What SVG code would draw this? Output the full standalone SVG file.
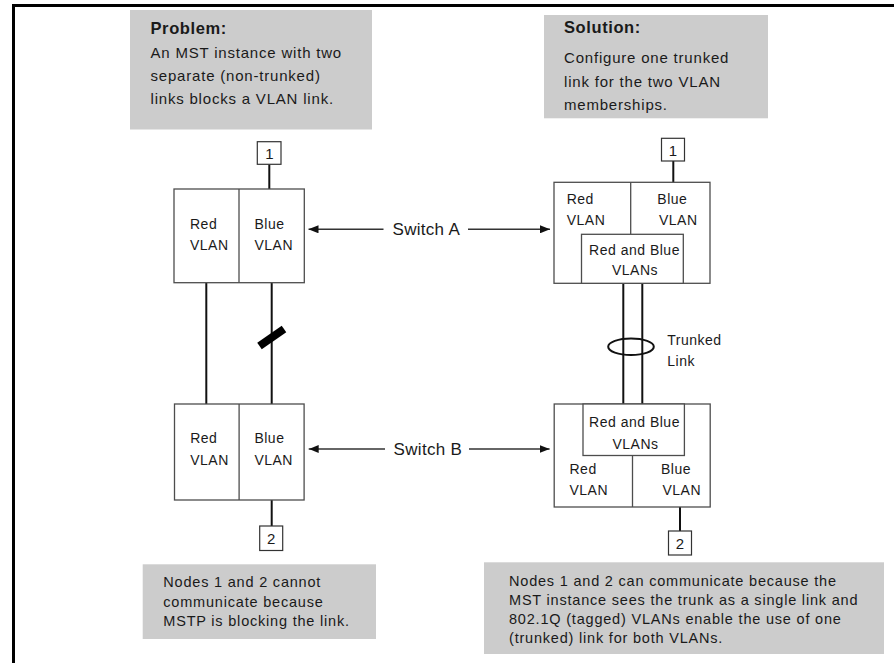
<svg xmlns="http://www.w3.org/2000/svg" width="894" height="663" viewBox="0 0 894 663">
<style>
text{font-family:"Liberation Sans",Arial,sans-serif;fill:#1a1a1a}
.note{fill:#cccccc;stroke:none}
.head{font-size:16.5px;font-weight:bold;letter-spacing:0.6px}
.body{font-size:15px;letter-spacing:0.8px}
.foot{font-size:14.5px;letter-spacing:0.8px}
.lbl{font-size:14px;letter-spacing:0.5px}
.sw{fill:#ffffff;stroke:#4d4d4d;stroke-width:1.3}
.div{stroke:#4d4d4d;stroke-width:1.3;fill:none}
.nd{fill:#ffffff;stroke:#333333;stroke-width:1.2}
.ndt{font-size:15px;text-anchor:middle}
.link{stroke:#111111;stroke-width:2;fill:none}
.arr{stroke:#333333;stroke-width:1.4;fill:none;marker-end:url(#ah)}
.swl{font-size:17px;letter-spacing:0.3px}
</style>
<defs>
<marker id="ah" viewBox="0 0 10 8" refX="10" refY="4" markerWidth="10" markerHeight="8" markerUnits="userSpaceOnUse" orient="auto">
<path d="M0,0 L10,4 L0,8 Z" fill="#111111"/>
</marker>
</defs>
<g id="frame">
<line x1="12" y1="5.5" x2="894" y2="5.5" stroke="#000" stroke-width="3"/>
<line x1="13.5" y1="4" x2="13.5" y2="663" stroke="#000" stroke-width="3"/>
</g>
<g id="problem">
<rect class="note" x="130" y="10" width="242" height="119.5"/>
<text class="head" x="150.5" y="34">Problem:</text>
<text class="body" x="150.5" y="57.7">An MST instance with two</text>
<text class="body" x="150.5" y="81">separate (non-trunked)</text>
<text class="body" x="150.5" y="104.3">links blocks a VLAN link.</text>
</g>
<g id="solution">
<rect class="note" x="544" y="15" width="224" height="103.3"/>
<text class="head" x="564" y="32.5">Solution:</text>
<text class="body" x="564" y="63">Configure one trunked</text>
<text class="body" x="564" y="86.5">link for the two VLAN</text>
<text class="body" x="564" y="110">memberships.</text>
</g>
<g id="connectors">
<line class="link" x1="269.3" y1="164.3" x2="269.3" y2="189"/>
<line class="link" x1="206.3" y1="282.7" x2="206.3" y2="404"/>
<line class="link" x1="271.7" y1="282.7" x2="271.7" y2="404"/>
<line x1="259.5" y1="346" x2="284" y2="329" stroke="#000" stroke-width="8"/>
<line class="link" x1="271.7" y1="500" x2="271.7" y2="526"/>
<line class="link" x1="673.3" y1="161" x2="673.3" y2="182.3"/>
<line class="link" x1="623.3" y1="283.3" x2="623.3" y2="404"/>
<line class="link" x1="642.3" y1="283.3" x2="642.3" y2="404"/>
<ellipse class="link" cx="631" cy="346.7" rx="22.8" ry="8.3"/>
<line class="link" x1="680" y1="507" x2="680" y2="531"/>
<line class="arr" x1="383.5" y1="229.3" x2="308.5" y2="229.3"/>
<line class="arr" x1="468" y1="229.3" x2="550" y2="229.3"/>
<text class="swl" x="392.5" y="235.2">Switch A</text>
<line class="arr" x1="385" y1="449" x2="308.7" y2="449"/>
<line class="arr" x1="469" y1="449" x2="549.6" y2="449"/>
<text class="swl" x="393.6" y="455">Switch B</text>
<text class="lbl" x="667.3" y="345">Trunked</text>
<text class="lbl" x="667.3" y="366">Link</text>
</g>
<g id="node1-left">
<rect class="nd" x="257.3" y="141.7" width="23.7" height="22.6"/>
<text class="ndt" x="269.3" y="158.5">1</text>
</g>
<g id="switchA-left">
<rect class="sw" x="174" y="189" width="130.3" height="93.7"/>
<line class="div" x1="239" y1="189" x2="239" y2="282.7"/>
<text class="lbl" x="190" y="229.3">Red</text>
<text class="lbl" x="190" y="250">VLAN</text>
<text class="lbl" x="254.5" y="229.3">Blue</text>
<text class="lbl" x="254.5" y="250">VLAN</text>
</g>
<g id="switchB-left">
<rect class="sw" x="174.5" y="404" width="129.6" height="96"/>
<line class="div" x1="239.1" y1="404" x2="239.1" y2="500"/>
<text class="lbl" x="190.2" y="443">Red</text>
<text class="lbl" x="190.2" y="465">VLAN</text>
<text class="lbl" x="254.4" y="443">Blue</text>
<text class="lbl" x="254.4" y="465">VLAN</text>
</g>
<g id="node2-left">
<rect class="nd" x="259.7" y="526" width="23" height="24.5"/>
<text class="ndt" x="271.2" y="544">2</text>
</g>
<g id="node1-right">
<rect class="nd" x="661.5" y="138.3" width="23" height="22.7"/>
<text class="ndt" x="673" y="155.5">1</text>
</g>
<g id="switchA-right">
<rect class="sw" x="554" y="182.3" width="156" height="101"/>
<line class="div" x1="630.7" y1="182.3" x2="630.7" y2="234.3"/>
<rect class="sw" x="581.5" y="234.3" width="101.8" height="49"/>
<text class="lbl" x="566.7" y="204.3">Red</text>
<text class="lbl" x="566.7" y="225">VLAN</text>
<text class="lbl" x="657.3" y="204.3">Blue</text>
<text class="lbl" x="659" y="225">VLAN</text>
<text class="lbl" x="634.5" y="255" text-anchor="middle">Red and Blue</text>
<text class="lbl" x="635" y="275" text-anchor="middle">VLANs</text>
</g>
<g id="switchB-right">
<rect class="sw" x="554.2" y="404" width="156" height="103"/>
<rect class="sw" x="583" y="404" width="101.4" height="51.5"/>
<line class="div" x1="632.5" y1="455.5" x2="632.5" y2="507"/>
<text class="lbl" x="634.5" y="427" text-anchor="middle">Red and Blue</text>
<text class="lbl" x="635.5" y="449" text-anchor="middle">VLANs</text>
<text class="lbl" x="569.5" y="473.5">Red</text>
<text class="lbl" x="569.5" y="495">VLAN</text>
<text class="lbl" x="661" y="473.5">Blue</text>
<text class="lbl" x="662.5" y="495">VLAN</text>
</g>
<g id="node2-right">
<rect class="nd" x="668.5" y="531" width="23" height="24"/>
<text class="ndt" x="680" y="548.5">2</text>
</g>
<g id="note-left">
<rect class="note" x="142.7" y="564.3" width="233.3" height="74.7"/>
<text class="foot" x="163.3" y="587.3">Nodes 1 and 2 cannot</text>
<text class="foot" x="163.3" y="606.5">communicate because</text>
<text class="foot" x="163.3" y="625.5">MSTP is blocking the link.</text>
</g>
<g id="note-right">
<rect class="note" x="484" y="562.3" width="400" height="91.7"/>
<text class="foot" x="509" y="585.7">Nodes 1 and 2 can communicate because the</text>
<text class="foot" x="509" y="605">MST instance sees the trunk as a single link and</text>
<text class="foot" x="509" y="624.2">802.1Q (tagged) VLANs enable the use of one</text>
<text class="foot" x="509" y="643.4">(trunked) link for both VLANs.</text>
</g>
</svg>
